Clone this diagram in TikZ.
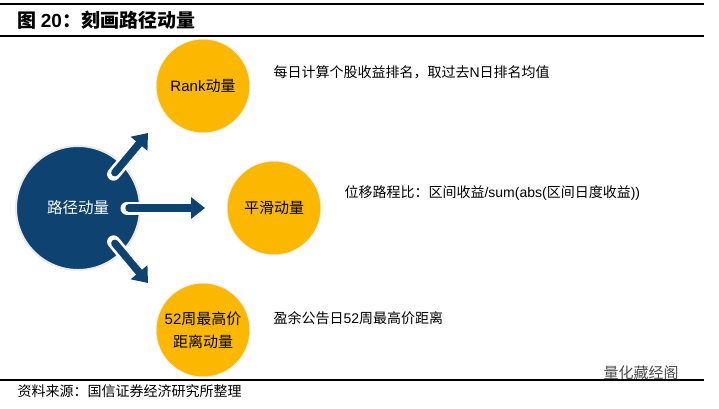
\documentclass[tikz,border=0pt]{standalone}
\usepackage{fontspec}
\setmainfont{Liberation Sans}
\newfontfamily\cjk{Noto Sans CJK SC}
\usetikzlibrary{arrows.meta,positioning}
\definecolor{navy}{RGB}{14,66,112}
\definecolor{gold}{RGB}{252,184,0}
\tikzset{
  hub/.style={circle, fill=navy, draw=black!8, line width=2pt, minimum size=124pt, text=white, font=\cjk\fontsize{15.5}{18}\selectfont},
  leaf/.style={circle, fill=gold, draw=black!6, line width=1pt, minimum size=94pt, align=center, font=\fontsize{15}{23}\selectfont},
  note/.style={anchor=west, font=\cjk\fontsize{14}{16}\selectfont},
  pipe/.style={line width=13pt, white, line cap=round},
  push/.style={line width=7.5pt, navy, line cap=round, -{Triangle[width=21pt,length=14pt]}},
}
\begin{document}
\begin{tikzpicture}[x=1pt,y=-1pt]
\useasboundingbox (0,0) rectangle (719,408);
\draw[line width=1.2pt] (0,4) -- (704,4);
\draw[line width=1.2pt] (0,36) -- (704,36);
\draw[line width=1.2pt] (0,380) -- (704,380);
\node[anchor=west, font=\cjk\bfseries\fontsize{19}{21}\selectfont] (title) at (14,20) {图 {\rmfamily\bfseries 20}：刻画路径动量};
\node[anchor=west, font=\cjk\fontsize{14}{16}\selectfont] (source) at (14,391) {资料来源：国信证券经济研究所整理};
\node[anchor=west, font=\cjk\fontsize{15}{17}\selectfont, text=black!70] (mark) at (600,373) {量化藏经阁};

% circles
\node[hub] (path) at (78,208) {路径动量};
\node[leaf] (rank) at (203,86) {Rank{\cjk 动量}};
\node[leaf] (smooth) at (274,208) {\cjk 平滑动量};
\node[leaf] (high) at (203,330) {52{\cjk 周最高价}\\{\cjk 距离动量}};

% arrow tips
\coordinate (tip1) at (148,133);
\coordinate (tip2) at (205,208);
\coordinate (tip3) at (148,283);
\foreach \a/\t in {45/tip1, 0/tip2, -45/tip3} {
  \draw[pipe, shorten <=-14pt, shorten >=12pt] (path.\a) -- (\t);
  \draw[push, shorten <=-12pt] (path.\a) -- (\t);
}

% notes
\node[note] (n1) at (270,72) {每日计算个股收益排名，取过去{\rmfamily N}日排名均值};
\node[note] (n2) at (341,193) {位移路程比：区间收益{\rmfamily /sum(abs(}区间日度收益{\rmfamily ))}};
\node[note] (n3) at (270,318) {盈余公告日{\rmfamily 52}周最高价距离};
\end{tikzpicture}
\end{document}
